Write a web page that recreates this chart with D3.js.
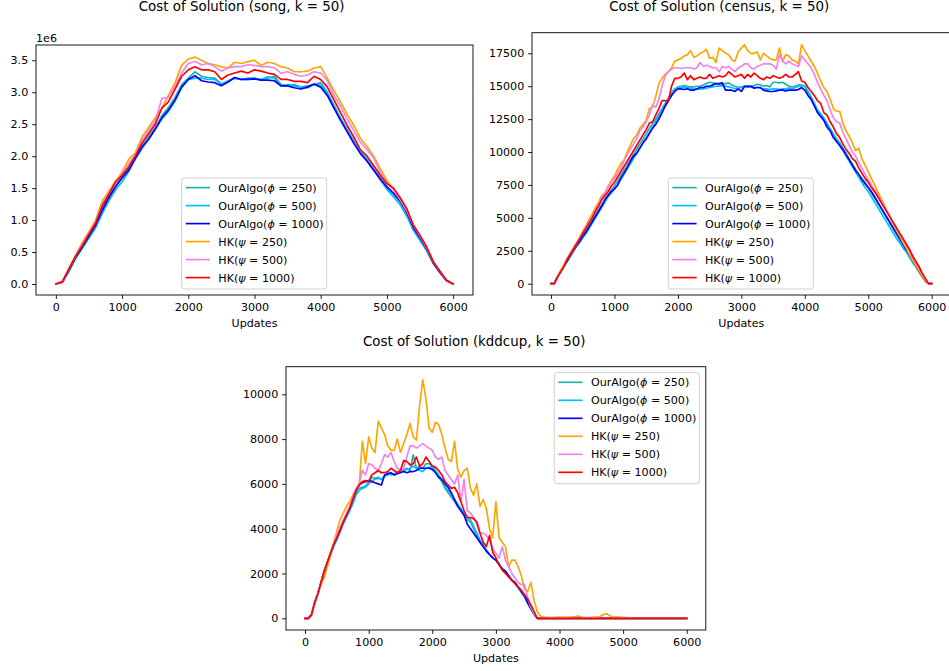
<!DOCTYPE html>
<html><head><meta charset="utf-8">
<script src="https://cdn.jsdelivr.net/npm/d3@7/dist/d3.min.js"></script>
<style>body{margin:0;background:#fff}svg{display:block}text{font-family:"DejaVu Sans",sans-serif;fill:#000}</style>
</head><body><svg id="c" width="949" height="671"></svg>
<script>
// ---------- data ----------
const xTicks = [0, 1000, 2000, 3000, 4000, 5000, 6000];
const songYTicks = [0, 0.5, 1, 1.5, 2, 2.5, 3, 3.5];
const censusYTicks = [0, 2500, 5000, 7500, 10000, 12500, 15000, 17500];
const kddYTicks = [0, 2000, 4000, 6000, 8000, 10000];

const updatesSong = d3.range(0, 6001, 100);
const updatesCensus = d3.range(0, 6001, 50);
const updatesKdd = d3.range(0, 6001, 50);

const seriesNames = ["OurAlgo(ϕ = 250)", "OurAlgo(ϕ = 500)", "OurAlgo(ϕ = 1000)", "HK(ψ = 250)", "HK(ψ = 500)", "HK(ψ = 1000)"];

// song (values in units of 1e6)
const songOur250 = [0,0.03,0.22,0.42,0.58,0.76,0.93,1.17,1.37,1.54, 1.68,1.8,1.99,2.16,2.3,2.45,2.63,2.76,2.92,3.12, 3.22,3.32,3.25,3.23,3.22,3.13,3.17,3.22,3.2,3.22, 3.22,3.2,3.22,3.25,3.12,3.1,3.12,3.08,3.1,3.12, 3.15,3.0,2.8,2.6,2.42,2.24,2.07,1.95,1.8,1.66, 1.52,1.4,1.28,1.1,0.86,0.7,0.54,0.33,0.18,0.05, 0];
const songOur500 = [0,0.03,0.2,0.4,0.56,0.72,0.88,1.1,1.3,1.47, 1.6,1.76,1.95,2.12,2.27,2.42,2.58,2.7,2.86,3.08, 3.2,3.22,3.22,3.2,3.2,3.12,3.18,3.22,3.2,3.2, 3.21,3.2,3.24,3.22,3.1,3.12,3.1,3.08,3.07,3.12, 3.12,2.98,2.78,2.58,2.4,2.22,2.06,1.93,1.79,1.63, 1.48,1.36,1.24,1.06,0.84,0.68,0.52,0.32,0.18,0.05, 0];
const songOur1000 = [0,0.03,0.22,0.42,0.58,0.75,0.92,1.15,1.35,1.52, 1.66,1.78,1.97,2.14,2.26,2.42,2.6,2.72,2.88,3.08, 3.2,3.26,3.18,3.16,3.15,3.1,3.16,3.23,3.2,3.2, 3.21,3.19,3.19,3.18,3.1,3.1,3.07,3.05,3.08,3.13, 3.08,2.95,2.75,2.56,2.38,2.2,2.04,1.92,1.78,1.64, 1.52,1.42,1.3,1.12,0.88,0.72,0.55,0.33,0.18,0.05, 0];
const songHK250 = [0,0.04,0.25,0.45,0.65,0.82,1.0,1.3,1.45,1.6, 1.75,1.95,2.05,2.3,2.45,2.6,2.75,2.95,3.15,3.42, 3.52,3.55,3.5,3.45,3.43,3.4,3.38,3.47,3.45,3.48, 3.5,3.42,3.47,3.45,3.4,3.38,3.32,3.32,3.33,3.38, 3.4,3.22,3.02,2.85,2.65,2.48,2.28,2.15,2.0,1.8, 1.62,1.48,1.33,1.15,0.92,0.75,0.57,0.35,0.2,0.06, 0];
const songHK500 = [0,0.04,0.24,0.44,0.62,0.8,0.97,1.25,1.42,1.57, 1.72,1.88,2.02,2.25,2.4,2.55,2.9,2.92,3.1,3.3, 3.45,3.48,3.43,3.45,3.4,3.33,3.38,3.4,3.4,3.43, 3.42,3.4,3.4,3.38,3.3,3.32,3.28,3.25,3.27,3.32, 3.3,3.18,2.95,2.78,2.58,2.4,2.22,2.1,1.97,1.75, 1.58,1.47,1.32,1.15,0.92,0.75,0.57,0.35,0.2,0.06, 0];
const songHK1000 = [0,0.04,0.24,0.44,0.6,0.78,0.95,1.22,1.4,1.6, 1.7,1.83,2.0,2.2,2.35,2.5,2.75,2.85,3.05,3.25, 3.35,3.4,3.35,3.35,3.32,3.2,3.27,3.3,3.33,3.3, 3.35,3.33,3.3,3.28,3.2,3.2,3.17,3.17,3.15,3.25, 3.2,3.08,2.88,2.68,2.48,2.3,2.1,2.0,1.85,1.7, 1.57,1.5,1.35,1.18,0.92,0.76,0.58,0.35,0.2,0.06, 0];

// census
const censusOur250 = [0,0,500,900,1300,1700,2100,2500,2900,3300, 3700,4000,4400,4800,5200,5600,6000,6400,6800,7100, 7400,7800,8200,8600,9000,9400,9800,10200,10600,11000, 11400,11800,12200,12500,12900,13300,13700,14100,14500,14800, 14950,15000,15050,15000,14950,14950,15000,15000,15100,15200, 15300,15250,15200,15100,15150,15200,15250,15100,15000,14900, 14950,15000,15050,15000,15050,15150,15100,15000,15050,14950, 15300,15300,15250,15300,15150,15000,14950,15000,15100,15100, 15000,14600,14200,13700,13200,12900,12600,12200,11800,11400, 11000,10700,10300,9900,9500,9100,8700,8300,8000,7700, 7300,6900,6500,6100,5700,5300,4900,4500,4100,3700, 3300,2900,2500,2100,1700,1300,900,600,200,0, 0];
const censusOur500 = [0,0,450,850,1250,1650,2050,2450,2800,3100, 3500,3800,4200,4600,5000,5400,5800,6200,6600,6900, 7200,7500,7900,8300,8700,9100,9500,9900,10300,10700, 11100,11500,11900,12300,12700,13100,13500,13900,14300,14700, 14900,14950,14900,14900,14850,14800,14750,14800,14800,14850, 14900,14950,15000,15000,15050,15000,14950,14900,14800,14850, 14900,14950,15000,14950,14900,14900,14850,14800,14800,14750, 14800,14800,14750,14800,14800,14850,14800,14900,15000,15050, 15000,14500,14100,13600,13100,12800,12500,12100,11700,11300, 10900,10500,10100,9700,9300,8900,8500,8100,7700,7300, 7000,6600,6200,5800,5400,5000,4600,4200,3800,3400, 3100,2700,2400,2000,1600,1300,900,500,200,0, 0];
const censusOur1000 = [0,0,500,900,1300,1700,2100,2500,2900,3200, 3600,3900,4300,4700,5100,5500,5900,6400,6700,7000, 7200,7500,8000,8400,8800,9300,9700,9900,10300,10700, 11000,11400,11800,12100,12500,13000,13500,13900,14300,14600, 14800,14800,14750,14800,14700,14700,14800,14900,14900,15000, 15000,15100,15200,15200,15250,14700,14700,14700,14600,14800, 14600,15000,14950,15000,14850,14900,14900,14700,14650,14600, 14600,14650,14700,14700,14650,14700,14700,14700,14750,14900, 14700,14300,14000,13500,13000,12700,12400,11900,11600,11100, 10800,10500,10200,9800,9400,9000,8600,8300,7900,7600, 7300,7000,6600,6200,5800,5400,5000,4600,4200,3800, 3400,3000,2600,2200,1800,1400,1000,600,200,0, 0];
const censusHK250 = [0,0,500,1000,1400,1900,2300,2700,3100,3500, 4000,4400,4900,5300,5800,6200,6700,6900,7400,7800, 8200,8700,9100,9400,10000,10500,11000,11300,11800,12100, 12400,13300,13400,14200,15200,15600,15900,16100,16400,16900, 17000,17100,17300,17400,17700,17200,17300,17500,17600,17800, 17100,17200,16800,17900,17700,17500,17400,17000,16900,17600, 17900,18150,17700,17500,17500,17600,17000,17500,17300,17100, 17000,17000,17900,16900,17400,17300,17000,16900,16700,18150, 17700,17300,16900,16500,16000,15400,14900,14600,14000,13300, 13100,13100,12200,11600,11200,10700,10100,10300,9500,9000, 8500,8000,7500,7000,6500,6000,5500,5000,4500,4000, 3600,3100,2700,2200,1800,1400,1000,600,200,0, 0];
const censusHK500 = [0,0,500,900,1300,1800,2200,2600,3000,3400, 3900,4300,4700,5100,5600,6000,6500,6900,7300,7700, 8000,8400,8800,9300,9800,10200,10600,11000,11600,11900, 12300,12800,13600,13400,14000,15000,15800,16100,16300,16400, 16400,16350,16400,16400,16400,16300,16400,16800,16500,16600, 16500,16400,16400,16100,16500,16400,16500,16300,16100,16400, 16500,16700,16700,16400,16300,16500,16600,16700,16700,16700, 16600,16300,17400,16900,16700,16900,16700,16600,16500,17300, 17000,16700,16400,15900,15300,14800,14300,13900,13200,12600, 12300,12200,11500,11000,10500,10000,9700,9200,8800,8300, 7900,7500,7100,6700,6300,5900,5500,5000,4600,4200, 3800,3400,3000,2600,2100,1700,1300,800,400,0, 0];
const censusHK1000 = [0,0,500,900,1300,1800,2200,2600,3000,3400, 3800,4200,4600,5000,5500,5900,6400,6700,7000,7400, 7700,8100,8500,8900,9300,9700,10100,10500,10900,11300, 11700,12200,12300,12800,13300,13900,13900,13900,15000,15600, 15600,15700,16000,15500,15800,15500,15600,15700,15600,15600, 15900,15600,15700,15800,15700,15800,16100,15900,15700,15800, 15900,15600,15900,15700,16000,15800,15600,15500,15700,15600, 15800,15700,15600,15700,15900,15700,15700,15900,16100,15400, 15300,14900,14600,14300,13900,13700,13000,12800,12300,11900, 11400,11100,10600,10200,9900,9500,9300,8800,8400,8000, 7700,7300,7000,6600,6200,5800,5400,5000,4600,4200, 3800,3400,3000,2600,2100,1700,1300,800,400,0, 0];

// kddcup
const kddOur250 = [0,0,150,700,1100,1600,2100,2500,2900,3300, 3600,3950,4300,4600,4900,5200,5600,5800,5850,5900, 6100,6300,6250,6300,6200,6350,6500,6400,6450,6500, 6550,6600,6700,6600,7300,6700,6800,6700,6900,6900, 6800,6600,6300,6100,5800,5600,5400,5200,5000,4800, 4600,4400,4300,4000,3700,3400,3200,3000,2850,2700, 2600,2400,2200,2100,1900,1700,1600,1400,1200,1000, 700,450,200,0,0,0,0,0,0,0, 0,0,0,0,0,0,0,0,0,0, 0,0,0,0,0,0,0,0,0,0, 0,0,0,0,0,0,0,0,0,0, 0,0,0,0,0,0,0,0,0,0, 0];
const kddOur500 = [0,0,150,650,1050,1550,2000,2400,2800,3200, 3500,3850,4200,4500,4800,5100,5500,5700,5800,5850, 6000,6150,6200,6250,6200,6350,6400,6450,6400,6500, 6550,6600,6650,6700,6800,6700,6600,6550,6700,6750, 6750,6600,6400,6200,5900,5700,5500,5300,5100,4900, 4700,4500,4400,4100,3800,3500,3300,3050,2850,2700, 2600,2400,2200,2100,1900,1700,1550,1350,1150,950, 650,400,150,0,0,0,0,0,0,0, 0,0,0,0,0,0,0,0,0,0, 0,0,0,0,0,0,0,0,0,0, 0,0,0,0,0,0,0,0,0,0, 0,0,0,0,0,0,0,0,0,0, 0];
const kddOur1000 = [0,0,150,700,1100,1600,2100,2500,2900,3300, 3600,3950,4300,4600,4900,5300,5700,5950,6050,6100, 6150,6100,6050,6000,5950,6400,6450,6500,6400,6450, 6500,6550,6500,6550,6550,6600,6700,6700,6700,6700, 6650,6500,6300,6200,6000,5850,5600,5300,5000,4800, 4600,4200,4000,3800,3600,3400,3200,3000,2850,2700, 2600,2400,2200,2100,1900,1700,1600,1400,1200,1000, 700,450,200,0,0,0,0,0,0,0, 0,0,0,0,0,0,0,0,0,0, 0,0,0,0,0,0,0,0,0,0, 0,0,0,0,0,0,0,0,0,0, 0,0,0,0,0,0,0,0,0,0, 0];
const kddHK250 = [0,0,150,600,1100,1500,1800,2300,2800,3350, 3900,4400,4700,5000,5200,5500,5700,5900,7900,6900, 8100,7600,7400,8800,8500,8200,7700,7500,7500,8000, 7400,7800,8200,8700,8100,7950,9500,10650,9800,8500, 8300,8750,8650,8200,7600,7100,7000,7900,6650,6300, 6600,6700,5800,5500,6000,5000,5300,4900,4000,3600, 5200,3600,3400,3200,2300,2600,2600,2300,1900,1300, 1200,1600,800,300,100,50,40,40,30,50, 60,50,40,60,70,80,100,60,30,30, 40,50,50,100,180,200,100,60,70,60, 40,30,20,0,0,0,0,0,0,0, 0,0,0,0,0,0,0,0,0,0, 0];
const kddHK500 = [0,0,150,700,1100,1600,2100,2500,2900,3300, 3700,4050,4400,4700,5000,5400,5800,6000,6600,6400, 6900,6850,6700,6600,6900,7300,7200,7400,7000,6700, 6600,6700,7200,7700,7700,7600,7700,7800,7700,7600, 7500,7200,7100,7200,6600,6400,6200,6000,6400,5200, 6200,4800,4700,4500,4200,3800,3800,3700,3500,3100, 2900,2700,3200,2600,2300,2000,1800,1600,1500,1500, 900,500,200,0,0,0,0,0,0,0, 0,0,0,0,0,0,0,0,0,0, 0,0,0,0,0,0,0,0,0,0, 0,0,0,0,0,0,0,0,0,0, 0,0,0,0,0,0,0,0,0,0, 0];
const kddHK1000 = [0,0,150,700,1100,1600,2100,2500,2900,3300, 3600,3950,4300,4600,4900,5300,5700,5950,6100,6150, 6100,6400,6500,6600,6500,6500,6550,6700,6600,6500, 6600,7050,7000,6850,6900,7200,6800,6900,7200,7000, 6800,6750,6600,6400,6100,5950,5800,5850,5600,5200, 4800,4500,4500,4450,4300,3800,3400,3200,3700,2950, 2700,2400,2150,2000,1850,1700,1550,1400,1250,1050, 850,600,300,0,0,0,0,0,0,0, 0,0,0,0,0,0,0,0,0,0, 0,0,0,0,0,0,0,0,0,0, 0,0,0,0,0,0,0,0,0,0, 0,0,0,0,0,0,0,0,0,0, 0];

// ---------- styles / layout ----------
const seriesColors = ["#20b2aa", "#00bfff", "#0000ff", "#ffa500", "#ee82ee", "#ff0000"];
const FS = 11.1, TFS = 13.4;

const panels = [
  {title: "Cost of Solution (song, k = 50)", tx: 241.6, ty: 11, x: updatesSong,
   series: [songOur250, songOur500, songOur1000, songHK250, songHK500, songHK1000],
   box: {l: 36, r: 473, t: 45, b: 295}, ydom: [-0.172, 3.739], yticks: songYTicks,
   yfmt: d => d.toFixed(1), offset: "1e6", leg: {x: 181.7, y: 178}},
  {title: "Cost of Solution (census, k = 50)", tx: 719.2, ty: 11, x: updatesCensus,
   series: [censusOur250, censusOur500, censusOur1000, censusHK250, censusHK500, censusHK1000],
   box: {l: 532, r: 950.7, t: 32.7, b: 295}, ydom: [-859, 19065], yticks: censusYTicks,
   yfmt: d => String(d), offset: null, leg: {x: 668.3, y: 178}},
  {title: "Cost of Solution (kddcup, k = 50)", tx: 474.2, ty: 346, x: updatesKdd,
   series: [kddOur250, kddOur500, kddOur1000, kddHK250, kddHK500, kddHK1000],
   box: {l: 286, r: 705.8, t: 366.7, b: 630}, ydom: [-522, 11232], yticks: kddYTicks,
   yfmt: d => String(d), offset: null, leg: {x: 554.3, y: 372.7}}
];

const svg = d3.select("#c");
svg.append("rect").attr("width", 949).attr("height", 671).attr("fill", "#fff");

panels.forEach((p, pi) => {
  const b = p.box;
  const xs = d3.scaleLinear().domain([-300, 6300]).range([b.l, b.r]);
  const ys = d3.scaleLinear().domain(p.ydom).range([b.b, b.t]);
  const g = svg.append("g");

  const cid = "clip" + pi;
  svg.append("clipPath").attr("id", cid).append("rect")
    .attr("x", b.l).attr("y", b.t).attr("width", b.r - b.l).attr("height", b.b - b.t);

  // lines
  const lg = g.append("g").attr("clip-path", `url(#${cid})`);
  p.series.forEach((vals, si) => {
    const pts = p.x.map((u, i) => [u, vals[i]]).filter(d => d[1] !== undefined);
    lg.append("path").attr("d", d3.line().x(d => xs(d[0])).y(d => ys(d[1]))(pts))
      .attr("fill", "none").attr("stroke", seriesColors[si])
      .attr("stroke-width", 1.67).attr("stroke-linejoin", "round").attr("stroke-linecap", "square");
  });

  // frame
  g.append("rect").attr("x", b.l).attr("y", b.t).attr("width", b.r - b.l).attr("height", b.b - b.t)
    .attr("fill", "none").attr("stroke", "#000").attr("stroke-width", 0.9);

  // axes
  const xa = g.append("g").attr("transform", `translate(0,${b.b})`)
    .call(d3.axisBottom(xs).tickValues(xTicks).tickSize(3.9).tickPadding(3.9).tickFormat(d => String(d)));
  const ya = g.append("g").attr("transform", `translate(${b.l},0)`)
    .call(d3.axisLeft(ys).tickValues(p.yticks).tickSize(3.9).tickPadding(3.9).tickFormat(p.yfmt));
  [xa, ya].forEach(a => {
    a.select(".domain").remove();
    a.selectAll("line").attr("stroke", "#000").attr("stroke-width", 0.9);
    a.selectAll("text").attr("font-size", FS).attr("font-family", "DejaVu Sans").attr("fill", "#000");
  });

  // labels
  g.append("text").attr("x", (b.l + b.r) / 2).attr("y", b.b + 31.8).attr("text-anchor", "middle")
    .attr("font-size", FS).text("Updates");
  g.append("text").attr("x", p.tx).attr("y", p.ty).attr("text-anchor", "middle")
    .attr("font-size", TFS).text(p.title);
  if (p.offset) g.append("text").attr("x", b.l).attr("y", b.t - 3.4).attr("font-size", FS).text(p.offset);

  // legend
  const L = p.leg;
  const leg = g.append("g").attr("transform", `translate(${L.x},${L.y})`);
  leg.append("rect").attr("x", 0).attr("y", 0).attr("width", 145).attr("height", 111)
    .attr("rx", 2.5).attr("fill", "#fff").attr("fill-opacity", 0.8)
    .attr("stroke", "#cccccc").attr("stroke-width", 0.9);
  seriesNames.forEach((name, i) => {
    const cy = 9.6 + i * 18;
    leg.append("line").attr("x1", 4).attr("x2", 28.3).attr("y1", cy).attr("y2", cy)
      .attr("stroke", seriesColors[i]).attr("stroke-width", 1.67);
    const m = name.match(/^(.*\()(.)( = .*)$/);
    const t = leg.append("text").attr("x", 36.6).attr("y", cy).attr("dy", "0.36em").attr("font-size", FS);
    t.append("tspan").text(m[1]);
    t.append("tspan").attr("font-style", "italic").text(m[2]);
    t.append("tspan").text(m[3]);
  });
});
</script></body></html>
